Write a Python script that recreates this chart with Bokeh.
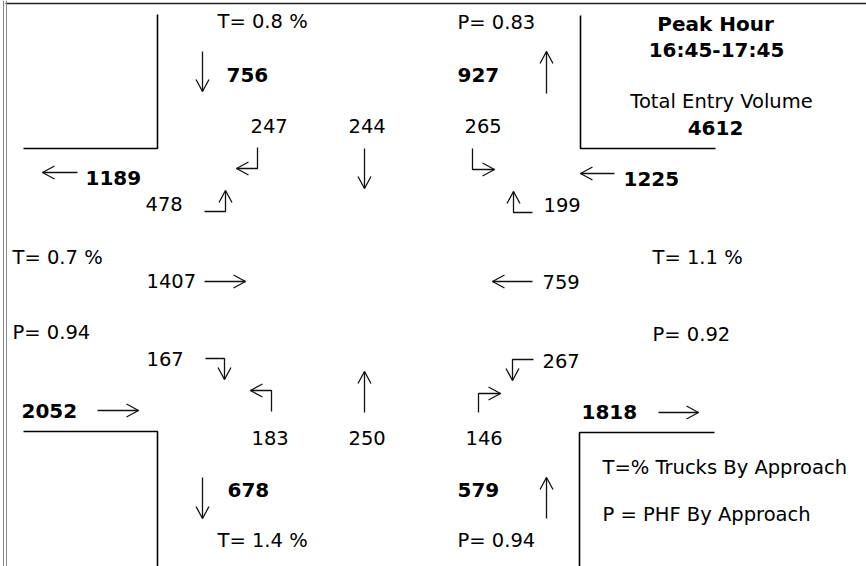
from bokeh.plotting import figure
from bokeh.models import Range1d
from bokeh.core.properties import value
from bokeh.embed import file_html
from bokeh.resources import INLINE

# ---------------- data ----------------
legs = ["North", "West", "South", "East"]
entry_volumes = [756, 2052, 579, 1225]      # volume entering on each leg
exit_volumes = [927, 1189, 678, 1818]       # volume leaving on each leg
truck_pct = [0.8, 0.7, 1.4, 1.1]            # T = % trucks by approach
phf = [0.83, 0.94, 0.94, 0.92]              # P = PHF by approach

movements = ["SB-R", "SB-T", "SB-L",
             "EB-L", "EB-T", "EB-R",
             "NB-L", "NB-T", "NB-R",
             "WB-L", "WB-T", "WB-R"]
movement_volumes = [247, 244, 265,
                    478, 1407, 167,
                    183, 250, 146,
                    267, 759, 199]

peak_title = "Peak Hour"
peak_period = "16:45-17:45"
total_label = "Total Entry Volume"
total_entry = 4612
legend_lines = ["T=% Trucks By Approach", "P = PHF By Approach"]

# ---------------- layout (page pixel coordinates) ----------------
FONT = "DejaVu Sans"
REG = "19.5px"
BOLD = "20px"
W, H = 866, 566

# label anchor (left x, middle y) for each movement
move_pos = {
    "SB-R": (250, 125), "SB-T": (348, 125), "SB-L": (464, 125),
    "EB-L": (145, 203), "EB-T": (146, 280), "EB-R": (146, 358),
    "NB-L": (251, 437), "NB-T": (348, 437), "NB-R": (465, 437),
    "WB-L": (542, 360), "WB-T": (542, 281), "WB-R": (543, 204),
}
# arrow polylines (head at last point) for each movement
move_arrow = {
    "SB-R": [(257, 147), (257, 168), (236, 168)],
    "SB-T": [(364, 148), (364, 188)],
    "SB-L": [(472, 148), (472, 169), (494, 169)],
    "EB-L": [(204, 211), (225, 211), (225, 190)],
    "EB-T": [(204, 281), (245, 281)],
    "EB-R": [(205, 358), (224, 358), (224, 379)],
    "NB-L": [(271, 411), (271, 390), (250, 390)],
    "NB-T": [(364, 412), (364, 371)],
    "NB-R": [(478, 412), (478, 393), (500, 393)],
    "WB-L": [(533, 359), (512, 359), (512, 380)],
    "WB-T": [(532, 281), (492, 281)],
    "WB-R": [(532, 212), (513, 212), (513, 191)],
}
entry_pos = {"North": (226, 74), "West": (21, 410), "South": (457, 489), "East": (623, 178)}
entry_arrow = {"North": [(202, 51), (202, 91)], "West": [(97, 410), (138, 410)],
               "South": [(546, 518), (546, 477)], "East": [(614, 173), (580, 173)]}
exit_pos = {"North": (457, 74), "West": (85, 177), "South": (227, 489), "East": (581, 411)}
exit_arrow = {"North": [(546, 93), (546, 51)], "West": [(77, 172), (42, 172)],
              "South": [(202, 477), (202, 518)], "East": [(658, 412), (698, 412)]}
t_pos = {"North": (217, 21), "West": (12, 257), "South": (217, 540), "East": (652, 257)}
p_pos = {"North": (457, 22), "West": (12, 332), "South": (457, 540), "East": (652, 334)}

corners = [
    [(23, 148), (157, 148), (157, 14)],
    [(580, 15), (580, 148), (715, 148)],
    [(23, 431), (157, 431), (157, 566)],
    [(714, 432), (579, 432), (579, 566)],
]

# ---------------- figure ----------------
p = figure(width=W, height=H, x_range=Range1d(0, W), y_range=Range1d(H, 0),
           output_backend="svg", toolbar_location=None, min_border=0,
           x_axis_location=None, y_axis_location=None)
p.grid.visible = False
p.outline_line_color = None
p.background_fill_color = "white"
p.border_fill_color = "white"

# page frame (top rule and double left rule)
p.multi_line(xs=[[5, W], [3, 3], [6, 6]], ys=[[3, 3], [0, H], [0, H]],
             line_color=["#222222", "#888888", "#888888"], line_width=[1.5, 1, 1])

# corner lines
p.multi_line(xs=[[q[0] for q in c] for c in corners], ys=[[q[1] for q in c] for c in corners],
             line_color="black", line_width=1.6)


def arrow_lines(pts, L=12, Wd=6.5):
    xs = [q[0] for q in pts]
    ys = [q[1] for q in pts]
    (x0, y0), (x1, y1) = pts[-2], pts[-1]
    dx, dy = x1 - x0, y1 - y0
    n = (dx * dx + dy * dy) ** 0.5
    dx, dy = dx / n, dy / n
    px, py = -dy, dx
    hx = [x1 - dx * L + px * Wd, x1, x1 - dx * L - px * Wd]
    hy = [y1 - dy * L + py * Wd, y1, y1 - dy * L - py * Wd]
    return [xs, hx], [ys, hy]


axs, ays = [], []
for arr in list(move_arrow.values()) + list(entry_arrow.values()) + list(exit_arrow.values()):
    a, b = arrow_lines(arr)
    axs += a
    ays += b
p.multi_line(xs=axs, ys=ays, line_color="#111111", line_width=1.3)

# regular labels
rx, ry, rt = [], [], []
for m, v in zip(movements, movement_volumes):
    rx.append(move_pos[m][0]); ry.append(move_pos[m][1]); rt.append(str(v))
for leg, t, ph in zip(legs, truck_pct, phf):
    rx.append(t_pos[leg][0]); ry.append(t_pos[leg][1]); rt.append(f"T= {t} %")
    rx.append(p_pos[leg][0]); ry.append(p_pos[leg][1]); rt.append(f"P= {ph:.2f}")
rx += [602, 602]; ry += [467, 514]; rt += legend_lines
p.text(x=rx, y=ry, text=rt, text_font=value(FONT), text_font_size=REG,
       text_baseline="middle", text_align="left", text_color="black")

# bold labels
bx, by, bt = [], [], []
for leg, ev, xv in zip(legs, entry_volumes, exit_volumes):
    bx.append(entry_pos[leg][0]); by.append(entry_pos[leg][1]); bt.append(str(ev))
    bx.append(exit_pos[leg][0]); by.append(exit_pos[leg][1]); bt.append(str(xv))
p.text(x=bx, y=by, text=bt, text_font=value(FONT), text_font_size=BOLD,
       text_font_style="bold", text_baseline="middle", text_align="left", text_color="black")

# peak hour block
p.text(x=[715, 716, 715], y=[23, 49, 127], text=[peak_title, peak_period, str(total_entry)],
       text_font=value(FONT), text_font_size=BOLD, text_font_style="bold",
       text_baseline="middle", text_align="center", text_color="black")
p.text(x=[721], y=[101], text=[total_label], text_font=value(FONT), text_font_size=REG,
       text_baseline="middle", text_align="center", text_color="black")

open("out.html", "w").write(file_html(p, INLINE))
